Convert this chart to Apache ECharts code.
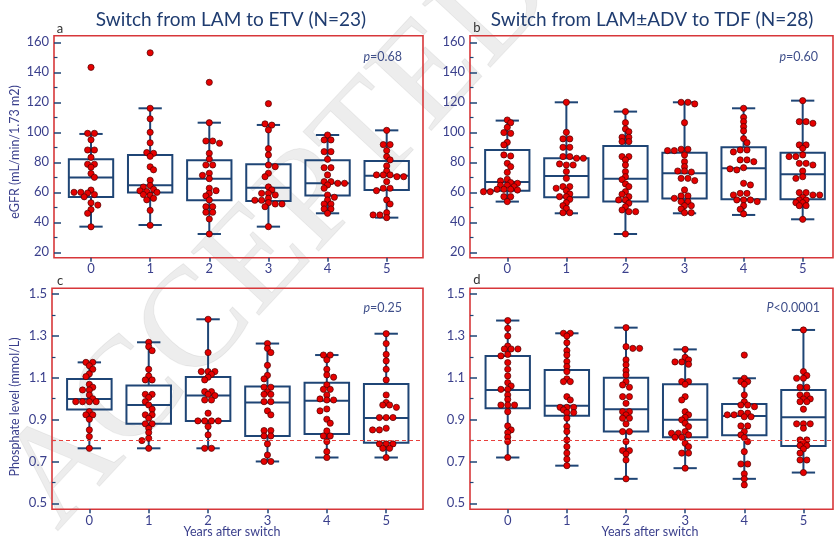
<!DOCTYPE html>
<html>
<head>
<meta charset="utf-8">
<script src="https://cdn.jsdelivr.net/npm/echarts@6/dist/echarts.min.js"></script>
<style>
  html, body { margin: 0; padding: 0; background: #ffffff; }
  #chart { width: 835px; height: 539px; }
</style>
</head>
<body>
<div id="chart"></div>
<script>
// ---- axis ticks -------------------------------------------------------
const years = [0, 1, 2, 3, 4, 5];
const egfrTicks = [20, 40, 60, 80, 100, 120, 140, 160];
const egfrMinorTicks = [30, 50, 70, 90, 110, 130, 150];
const phosTicks = [0.5, 0.7, 0.9, 1.1, 1.3, 1.5];
const phosMinorTicks = [0.6, 0.8, 1.0, 1.2, 1.4];
const phosLowerLimit = 0.8;

// ---- eGFR (mL/min/1.73 m2), LAM -> ETV, one list per year ---------------
const egfrEtv0 = [143.3, 99.3, 99.3, 95, 88.2, 88.2, 83.3, 78.7, 78.7, 76.7, 72.5, 70, 61.5, 60, 60, 59.5, 58.5, 57, 53, 51.5, 48.5, 46, 37];
const egfrEtv1 = [153, 116, 109, 100, 93, 86.5, 86, 84, 77, 75, 68, 64.5, 63.5, 62, 61, 60.5, 60, 58.5, 58, 56, 55, 48, 38];
const egfrEtv2 = [133.3, 106.4, 94.2, 94.2, 92.7, 86, 82.2, 78.2, 78.2, 72.7, 71.3, 69.1, 62.7, 61.1, 59.3, 57.6, 54.9, 50.4, 50.4, 46.7, 46.7, 42.2, 32.2];
const egfrEtv3 = [119.1, 105.6, 104.8, 101.6, 89.1, 84.9, 78.2, 77.1, 72.7, 70.4, 63.6, 61.6, 59.3, 59.3, 58.2, 56, 54.7, 54.7, 53.1, 52.2, 52.2, 50.4, 37.1];
const egfrEtv4 = [98.2, 94.9, 94.9, 87.1, 87.1, 82, 76.4, 76.4, 71.6, 67.1, 67.1, 66, 66, 64.9, 62.7, 58.2, 56.7, 54.9, 52.2, 52.2, 48.9, 48.9, 46];
const egfrEtv5 = [101.3, 91.8, 91.8, 87.8, 83.8, 81.6, 77.6, 74.2, 71.6, 71.6, 71.6, 70.4, 70.4, 67.1, 62.7, 62.7, 61.1, 54.9, 52.2, 46.4, 44.9, 44.9, 43.1];
// box summaries per year: [lower whisker, Q1, median, Q3, upper whisker]
const egfrEtvBox = [
  [37.1, 56.9, 69.8, 82.0, 98.9],
  [38.2, 59.8, 64.7, 84.9, 116],
  [32.2, 54.7, 69.1, 81.3, 106.4],
  [37.1, 54.2, 63.1, 78.7, 104.9],
  [46, 57.8, 66, 81.3, 98.2],
  [43.1, 61.6, 71.1, 80.9, 101.3]
];

// ---- eGFR, LAM±ADV -> TDF ------------------------------------------------
const egfrTdf0 = [108.2, 106.4, 103.3, 99.8, 99.3, 93.3, 91.6, 84.9, 84.2, 79.3, 77.1, 73.3, 68.7, 67.6, 66.5, 66, 64.7, 64.7, 63.8, 62, 62, 62, 61.5, 60.4, 60.4, 57.1, 57.1, 53.8];
const egfrTdf1 = [120, 100, 95.6, 95.6, 90, 90, 83.8, 83.8, 82.7, 82.7, 78.9, 78.2, 78.2, 73.8, 69.3, 63.8, 63.8, 62.7, 61.1, 58.9, 57.1, 57.1, 55.3, 53.1, 51.1, 49.3, 46.4, 46.4];
const egfrTdf2 = [113.8, 106.4, 102.2, 100.4, 96.7, 96.7, 93.8, 93.8, 83.8, 83.8, 81.6, 78.2, 73.8, 70.4, 68.5, 65.6, 63.8, 60.4, 58.7, 57.1, 54.9, 54.9, 52.7, 50.4, 48.2, 47.1, 47.1, 32.2];
const egfrTdf3 = [120, 120, 118.9, 106.4, 88.7, 88.7, 87.8, 87.8, 84.9, 80.4, 77.1, 74.2, 74.2, 73.5, 69.3, 69.3, 67.8, 61.6, 57.6, 57.6, 56, 53.8, 53.8, 51.1, 51.1, 48.9, 46.4, 46.4];
const egfrTdf4 = [116, 110, 107.1, 103.8, 100.9, 95.8, 93.1, 88.2, 88.2, 86.9, 81.6, 81.6, 80.4, 76.4, 75.6, 74.9, 66, 64.9, 59.3, 59.3, 58.2, 54.9, 54.9, 54.9, 53.8, 51.1, 48.7, 45.6];
const egfrTdf5 = [121.1, 107.1, 107.1, 106, 91.6, 91.6, 89.3, 84.9, 83.8, 83.8, 79.3, 79.3, 78.2, 74.2, 70.4, 69.3, 59.8, 59.8, 58.2, 58.2, 56.7, 54.9, 54.9, 53.1, 53.1, 51.1, 51.1, 42];
const egfrTdfBox = [
  [53.8, 61.1, 66.9, 88.2, 107.8],
  [46, 56.7, 70.9, 82.7, 120],
  [32.2, 53.8, 69.1, 90.9, 113.8],
  [46, 55.8, 72.7, 86.4, 120],
  [44.9, 55.3, 76, 90, 116],
  [42, 55.3, 72, 86.4, 121.1]
];

// ---- phosphate (mmol/L), LAM -> ETV -----------------------------------------
const phosEtv0 = [1.174, 1.174, 1.158, 1.141, 1.119, 1.106, 1.069, 1.055, 1.042, 1.042, 1.018, 1.0, 0.986, 0.986, 0.986, 0.986, 0.938, 0.923, 0.923, 0.902, 0.851, 0.819, 0.763];
const phosEtv1 = [1.270, 1.249, 1.230, 1.141, 1.109, 1.090, 1.090, 1.021, 1.021, 1.006, 0.986, 0.970, 0.950, 0.923, 0.923, 0.907, 0.880, 0.880, 0.859, 0.838, 0.811, 0.800, 0.763];
const phosEtv2 = [1.380, 1.221, 1.130, 1.130, 1.130, 1.117, 1.103, 1.090, 1.034, 1.034, 1.021, 1.015, 0.994, 0.994, 0.931, 0.894, 0.894, 0.894, 0.894, 0.867, 0.827, 0.763, 0.763];
const phosEtv3 = [1.264, 1.241, 1.221, 1.160, 1.112, 1.095, 1.055, 1.055, 1.033, 1.021, 1.021, 0.986, 0.986, 0.942, 0.923, 0.848, 0.848, 0.822, 0.822, 0.784, 0.731, 0.700, 0.700];
const phosEtv4 = [1.209, 1.209, 1.186, 1.141, 1.114, 1.103, 1.066, 1.045, 1.045, 1.018, 0.999, 0.994, 0.994, 0.951, 0.942, 0.902, 0.883, 0.846, 0.822, 0.822, 0.795, 0.747, 0.719];
const phosEtv5 = [1.311, 1.264, 1.212, 1.181, 1.141, 1.090, 1.018, 0.982, 0.970, 0.970, 0.959, 0.910, 0.910, 0.910, 0.859, 0.851, 0.851, 0.784, 0.784, 0.784, 0.763, 0.763, 0.719];
const phosEtvBox = [
  [0.763, 0.948, 0.999, 1.095, 1.174],
  [0.763, 0.881, 0.970, 1.063, 1.270],
  [0.763, 0.894, 1.015, 1.104, 1.380],
  [0.700, 0.822, 0.982, 1.058, 1.264],
  [0.719, 0.832, 0.990, 1.077, 1.209],
  [0.719, 0.790, 0.908, 1.071, 1.311]
];

// ---- phosphate, LAM±ADV -> TDF ------------------------------------------------
const phosTdf0 = [1.374, 1.337, 1.300, 1.252, 1.238, 1.238, 1.238, 1.212, 1.205, 1.173, 1.141, 1.109, 1.077, 1.061, 1.045, 1.045, 1.018, 0.997, 0.970, 0.970, 0.970, 0.938, 0.870, 0.851, 0.838, 0.816, 0.795, 0.719];
const phosTdf1 = [1.313, 1.313, 1.300, 1.268, 1.230, 1.209, 1.178, 1.154, 1.130, 1.095, 1.082, 1.082, 1.010, 0.994, 0.959, 0.959, 0.959, 0.947, 0.934, 0.934, 0.907, 0.867, 0.843, 0.803, 0.771, 0.740, 0.711, 0.680];
const phosTdf2 = [1.340, 1.249, 1.241, 1.241, 1.186, 1.162, 1.135, 1.114, 1.082, 1.066, 1.055, 1.010, 1.010, 0.978, 0.938, 0.938, 0.923, 0.907, 0.907, 0.880, 0.843, 0.843, 0.795, 0.752, 0.752, 0.736, 0.707, 0.617];
const phosTdf3 = [1.236, 1.198, 1.186, 1.176, 1.176, 1.165, 1.082, 1.082, 1.069, 1.010, 0.994, 0.938, 0.923, 0.911, 0.899, 0.883, 0.867, 0.843, 0.835, 0.835, 0.827, 0.816, 0.816, 0.787, 0.771, 0.740, 0.740, 0.668];
const phosTdf4 = [1.209, 1.098, 1.082, 1.082, 1.069, 1.018, 0.986, 0.970, 0.970, 0.962, 0.931, 0.931, 0.923, 0.923, 0.914, 0.914, 0.870, 0.870, 0.843, 0.827, 0.814, 0.795, 0.747, 0.688, 0.688, 0.641, 0.617, 0.588];
const phosTdf5 = [1.329, 1.130, 1.111, 1.098, 1.098, 1.055, 1.055, 1.018, 1.018, 0.999, 0.999, 0.986, 0.986, 0.950, 0.880, 0.880, 0.880, 0.859, 0.803, 0.803, 0.790, 0.776, 0.776, 0.760, 0.740, 0.707, 0.707, 0.647];
const phosTdfBox = [
  [0.719, 0.954, 1.042, 1.205, 1.374],
  [0.680, 0.919, 0.966, 1.138, 1.313],
  [0.617, 0.843, 0.950, 1.101, 1.340],
  [0.668, 0.816, 0.899, 1.069, 1.236],
  [0.617, 0.825, 0.918, 0.975, 1.098],
  [0.647, 0.774, 0.911, 1.042, 1.329]
];

// ---- text -----------------------------------------------------------------
const titleEtv = 'Switch from LAM to ETV (N=23)';
const titleTdf = 'Switch from LAM\u00B1ADV to TDF (N=28)';
const egfrName = 'eGFR (mL/min/1.73 m2)';
const phosName = 'Phosphate level (mmol/L)';
const xName = 'Years after switch';
const pTexts = [['p', '=0.68'], ['p', '=0.60'], ['p', '=0.25'], ['P', '<0.0001']];
const panelLetters = ['a', 'b', 'c', 'd'];

// ---- styling ----------------------------------------------------------------
const NAVY = '#1f4575';
const LABEL = '#3a3f8c';
const FRAME = '#d7373a';
const FONT = 'Lato, "Open Sans", sans-serif';

const panels = [
  { rect: [54, 35.7, 369, 222],   x: [-0.626, 5.614], y: [16.4, 164.4],   ticks: egfrTicks, minor: egfrMinorTicks, fmt: v => String(v),
    series: [egfrEtv0, egfrEtv1, egfrEtv2, egfrEtv3, egfrEtv4, egfrEtv5], box: egfrEtvBox, refLine: false },
  { rect: [470, 35.7, 363, 222],  x: [-0.631, 5.513], y: [16.4, 164.4],   ticks: egfrTicks, minor: egfrMinorTicks, fmt: v => String(v),
    series: [egfrTdf0, egfrTdf1, egfrTdf2, egfrTdf3, egfrTdf4, egfrTdf5], box: egfrTdfBox, refLine: false },
  { rect: [52, 288.3, 371, 221],  x: [-0.629, 5.62],  y: [0.4713, 1.5282], ticks: phosTicks, minor: phosMinorTicks, fmt: v => v.toFixed(1),
    series: [phosEtv0, phosEtv1, phosEtv2, phosEtv3, phosEtv4, phosEtv5], box: phosEtvBox, refLine: true },
  { rect: [470, 288.3, 363, 221], x: [-0.638, 5.50],  y: [0.4713, 1.5282], ticks: phosTicks, minor: phosMinorTicks, fmt: v => v.toFixed(1),
    series: [phosTdf0, phosTdf1, phosTdf2, phosTdf3, phosTdf4, phosTdf5], box: phosTdfBox, refLine: true }
];

// box with whiskers and short caps
function renderBox(params, api) {
  const x = api.value(0);
  const lo = api.coord([x, api.value(1)]);
  const q1 = api.coord([x, api.value(2)]);
  const md = api.coord([x, api.value(3)]);
  const q3 = api.coord([x, api.value(4)]);
  const hi = api.coord([x, api.value(5)]);
  const unit = api.size([1, 0])[0];
  const bw = unit * 0.375, cw = unit * 0.197, cx = lo[0];
  const st = { stroke: NAVY, lineWidth: 2, fill: null };
  return {
    type: 'group',
    children: [
      { type: 'line', shape: { x1: cx, y1: hi[1], x2: cx, y2: q3[1] }, style: st },
      { type: 'line', shape: { x1: cx, y1: q1[1], x2: cx, y2: lo[1] }, style: st },
      { type: 'line', shape: { x1: cx - cw, y1: hi[1], x2: cx + cw, y2: hi[1] }, style: st },
      { type: 'line', shape: { x1: cx - cw, y1: lo[1], x2: cx + cw, y2: lo[1] }, style: st },
      { type: 'rect', shape: { x: cx - bw, y: q3[1], width: 2 * bw, height: q1[1] - q3[1] }, style: { stroke: NAVY, lineWidth: 2, fill: 'rgba(0,0,0,0)' } },
      { type: 'line', shape: { x1: cx - bw, y1: md[1], x2: cx + bw, y2: md[1] }, style: st }
    ]
  };
}

// dot swarm: equal values sit side by side, near values are nudged sideways
const DOT_R = 3.1, DOT_STEP = 6.8, DOT_GAP = 4.2;
function makeDotRenderer(groups) {
  return function (params, api) {
    const g = api.value(0);
    const pts = groups[g].slice().sort((a, b) => b - a).map(v => api.coord([g, v]));
    const rows = [];
    pts.forEach(p => {
      const row = rows[rows.length - 1];
      if (row && Math.abs(p[1] - row[0][1]) < 1.2) row.push(p); else rows.push([p]);
    });
    const placed = [];
    const children = [];
    let flip = 1;
    rows.forEach(row => {
      const n = row.length;
      const base = row.map((p, i) => (i - (n - 1) / 2) * DOT_STEP);
      const shifts = [0];
      for (let k = 1; k < 8; k++) { shifts.push(flip * k * DOT_STEP / 2, -flip * k * DOT_STEP / 2); }
      let chosen = 0;
      for (const s of shifts) {
        const ok = row.every((p, i) => placed.every(q => {
          const dx = p[0] + base[i] + s - q[0], dy = p[1] - q[1];
          return dx * dx + dy * dy >= DOT_GAP * DOT_GAP;
        }));
        if (ok) { chosen = s; break; }
      }
      if (chosen !== 0) flip = -flip;
      row.forEach((p, i) => {
        const c = [p[0] + base[i] + chosen, p[1]];
        placed.push(c);
        children.push({
          type: 'circle',
          shape: { cx: c[0], cy: c[1], r: DOT_R },
          style: { fill: '#e60000', stroke: '#4a0000', lineWidth: 0.7 }
        });
      });
    });
    return { type: 'group', children };
  };
}

const grid = [], xAxis = [], yAxis = [], series = [];
panels.forEach((p, i) => {
  grid.push({ left: p.rect[0], top: p.rect[1], width: p.rect[2], height: p.rect[3],
              show: true, borderColor: FRAME, borderWidth: 1.6, backgroundColor: 'transparent' });
  xAxis.push({
    gridIndex: i, type: 'value', position: 'bottom', min: p.x[0], max: p.x[1],
    axisLine: { show: false, onZero: false }, splitLine: { show: false },
    axisTick: { show: true, inside: false, length: 4, customValues: years, lineStyle: { color: NAVY, width: 1.5 } },
    axisLabel: { show: true, customValues: years, margin: 5, color: LABEL, fontSize: 13, fontFamily: FONT }
  });
  // labelled ticks
  yAxis.push({
    gridIndex: i, type: 'value', position: 'left', min: p.y[0], max: p.y[1],
    axisLine: { show: false, onZero: false }, splitLine: { show: false },
    axisTick: { show: true, inside: true, length: 7, customValues: p.ticks, lineStyle: { color: NAVY, width: 1.5 } },
    axisLabel: { show: true, customValues: p.ticks, margin: 5, color: LABEL, fontSize: 13, fontFamily: FONT, formatter: p.fmt }
  });
  // minor ticks
  yAxis.push({
    gridIndex: i, type: 'value', position: 'left', min: p.y[0], max: p.y[1],
    axisLine: { show: false, onZero: false }, splitLine: { show: false },
    axisTick: { show: true, inside: true, length: 3.5, customValues: p.minor, lineStyle: { color: NAVY, width: 1.2 } },
    axisLabel: { show: false }
  });
  const yIdx = i * 2;
  if (p.refLine) {
    series.push({
      type: 'line', xAxisIndex: i, yAxisIndex: yIdx, data: [], silent: true, z: 1,
      markLine: { silent: true, symbol: 'none', label: { show: false },
                  lineStyle: { color: '#e8403c', type: [4, 3], width: 1 },
                  data: [{ yAxis: phosLowerLimit }] }
    });
  }
  series.push({
    type: 'custom', xAxisIndex: i, yAxisIndex: yIdx, z: 2, silent: true,
    renderItem: renderBox,
    encode: { x: 0, y: [1, 2, 3, 4, 5] },
    data: years.map((yr, k) => [yr].concat(p.box[k]))
  });
  series.push({
    type: 'custom', xAxisIndex: i, yAxisIndex: yIdx, z: 3, silent: true,
    renderItem: makeDotRenderer(p.series),
    encode: { x: 0, y: 1 },
    data: years.map((yr, k) => [yr, p.series[k][0]])
  });
});

const txt = (x, y, text, opts) => ({
  type: 'text', x, y, silent: true, z: 10,
  style: Object.assign({ text, fontFamily: FONT, fill: NAVY, align: 'center', verticalAlign: 'middle' }, opts || {})
});

const graphic = [
  // diagonal watermark
  { type: 'text', x: 280, y: 238, rotation: 47 * Math.PI / 180, silent: true, z: -5,
    style: { text: 'ACCEPTED', font: '142px "Liberation Serif", "DejaVu Serif", serif',
             fill: 'rgba(0,0,0,0.07)', stroke: 'rgba(0,0,0,0.06)', lineWidth: 1,
             align: 'center', verticalAlign: 'middle' } },
  txt(231, 20, titleEtv, { fontSize: 19, fill: '#1f3c70' }),
  txt(652, 20, titleTdf, { fontSize: 19, fill: '#1f3c70' }),
  txt(60, 29, panelLetters[0], { fontSize: 13, fill: '#333333' }),
  txt(477, 28, panelLetters[1], { fontSize: 13, fill: '#333333' }),
  txt(60, 281, panelLetters[2], { fontSize: 13, fill: '#333333' }),
  txt(477, 280, panelLetters[3], { fontSize: 13, fill: '#333333' }),
  txt(15, 152, egfrName, { fontSize: 12.5, fill: LABEL }),
  txt(15, 407, phosName, { fontSize: 12.5, fill: LABEL }),
  txt(232, 532, xName, { fontSize: 12.5, fill: LABEL }),
  txt(650, 532, xName, { fontSize: 12.5, fill: LABEL })
];
// rotate the axis names
graphic[7].rotation = Math.PI / 2;
graphic[8].rotation = Math.PI / 2;

// p-values, right aligned inside each frame
const pPos = [[402, 57], [818, 57], [402, 308], [820, 308]];
pPos.forEach((pos, i) => {
  graphic.push({
    type: 'text', x: pos[0], y: pos[1], silent: true, z: 10,
    style: {
      text: '{i|' + pTexts[i][0] + '}{n|' + pTexts[i][1] + '}',
      align: 'right', verticalAlign: 'middle',
      rich: {
        i: { fontStyle: 'italic', fontSize: 12.5, fontFamily: FONT, fill: '#3f4f8a' },
        n: { fontSize: 12.5, fontFamily: FONT, fill: '#3f4f8a' }
      }
    }
  });
});

const chart = echarts.init(document.getElementById('chart'), null, { renderer: 'canvas' });
chart.setOption({
  animation: false,
  backgroundColor: '#ffffff',
  grid, xAxis, yAxis, series, graphic
});
</script>
</body>
</html>
